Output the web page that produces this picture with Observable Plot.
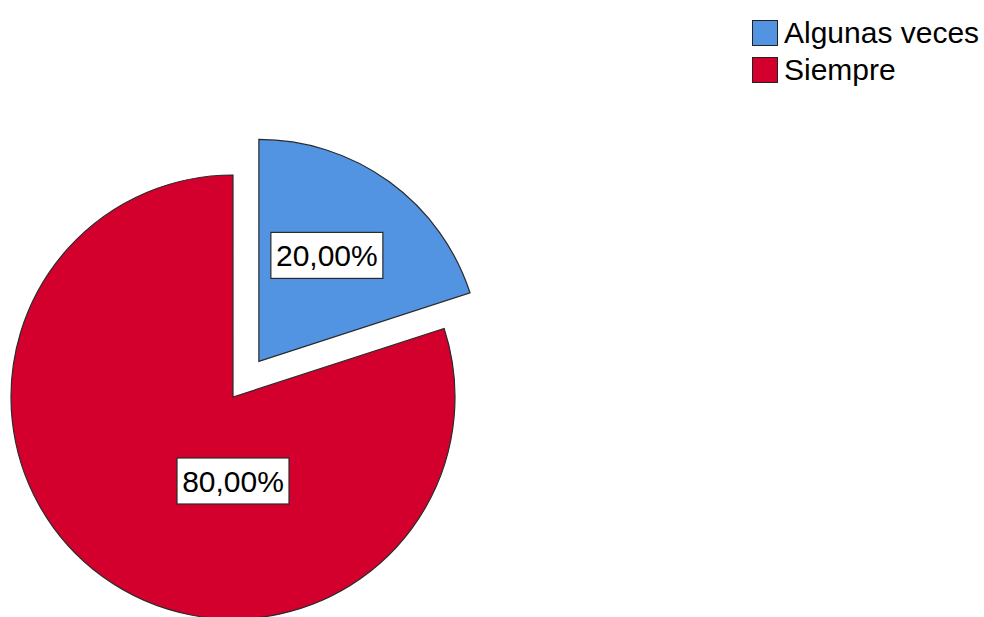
<!DOCTYPE html>
<html>
<head>
<meta charset="utf-8">
<script src="https://cdn.jsdelivr.net/npm/d3@7"></script>
<script src="https://cdn.jsdelivr.net/npm/@observablehq/plot@0.6"></script>
<style>
  html, body { margin: 0; padding: 0; background: #fff; }
  #wrap { position: relative; width: 984px; height: 617px; overflow: hidden; font-family: "Liberation Sans", Arial, sans-serif; }
  #wrap svg { position: absolute; left: 0; top: 0; }
  #legend { position: absolute; left: 752px; top: 14px; }
  .item { display: flex; align-items: center; height: 37px; font-size: 30px; color: #000; }
  .sw { width: 24px; height: 24px; border: 1px solid #222; margin-right: 6px; }
</style>
</head>
<body>
<div id="wrap"></div>
<script>
const categories = ["Algunas veces", "Siempre"];
const percentages = [20, 80];
const labels = ["20,00%", "80,00%"];
const colors = ["#5293e2", "#d3002e"];
const exploded = [true, false];

const slices = categories.map((c, i) => ({category: c, value: percentages[i], label: labels[i], explode: exploded[i]}));

// layout options (pixel space)
const layout = {
  cx: 233, cy: 397, r: 222, explodeDist: 44,
  labelOffsets: [[68, -106], [0, 84]],
  boxW: 112, boxH: 46, fontSize: 30
};

const pieRender = (index, scales, values, dimensions, context) => {
  const g = d3.create("svg:g");
  const arcs = d3.pie().sort(null).value(d => d.value)(slices);
  const arcGen = d3.arc().innerRadius(0).outerRadius(scales.x(layout.cx + layout.r) - scales.x(layout.cx));
  arcs.forEach((a, i) => {
    const mid = (a.startAngle + a.endAngle) / 2;
    const d = a.data.explode ? layout.explodeDist : 0;
    const cx = scales.x(layout.cx) + d * Math.sin(mid);
    const cy = scales.y(layout.cy) - d * Math.cos(mid);
    const sg = g.append("g").attr("transform", `translate(${cx},${cy})`);
    sg.append("path")
      .attr("d", arcGen(a))
      .attr("fill", scales.color(a.data.category))
      .attr("stroke", "#2a2a2a")
      .attr("stroke-width", 1.2)
      .attr("stroke-linejoin", "miter");
  });
  arcs.forEach((a, i) => {
    const mid = (a.startAngle + a.endAngle) / 2;
    const d = a.data.explode ? layout.explodeDist : 0;
    const cx = scales.x(layout.cx) + d * Math.sin(mid) + layout.labelOffsets[i][0];
    const cy = scales.y(layout.cy) - d * Math.cos(mid) + layout.labelOffsets[i][1];
    g.append("rect")
      .attr("x", cx - layout.boxW / 2).attr("y", cy - layout.boxH / 2)
      .attr("width", layout.boxW).attr("height", layout.boxH)
      .attr("fill", "#fff").attr("stroke", "#2a2a2a").attr("stroke-width", 1.2);
    g.append("text")
      .attr("x", cx).attr("y", cy)
      .attr("text-anchor", "middle")
      .attr("dy", "0.36em")
      .attr("font-size", layout.fontSize)
      .attr("font-family", "'Liberation Sans', Arial, sans-serif")
      .attr("fill", "#000")
      .text(a.data.label);
  });
  return g.node();
};

const chart = Plot.plot({
  width: 984,
  height: 617,
  margin: 0,
  x: {domain: [0, 984], range: [0, 984], axis: null},
  y: {domain: [0, 617], range: [0, 617], axis: null},
  color: {domain: categories, range: colors},
  marks: [
    Plot.dot(slices.slice(0, 1), {x: () => layout.cx, y: () => layout.cy, fill: "category", render: pieRender})
  ]
});
document.getElementById("wrap").appendChild(chart);

const legend = document.createElement("div");
legend.id = "legend";
categories.forEach((c, i) => {
  const it = document.createElement("div");
  it.className = "item";
  const sw = document.createElement("div");
  sw.className = "sw";
  sw.style.background = colors[i];
  const t = document.createElement("span");
  t.textContent = c;
  it.appendChild(sw); it.appendChild(t);
  legend.appendChild(it);
});
document.getElementById("wrap").appendChild(legend);
</script>
</body>
</html>
